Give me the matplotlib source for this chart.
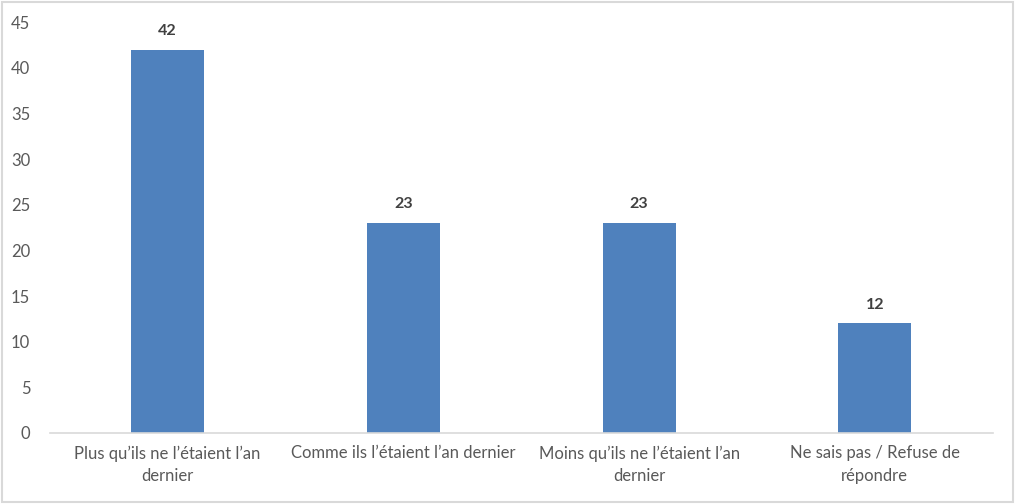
import matplotlib.pyplot as plt
from matplotlib.patches import Rectangle

categories = ["Plus qu’ils ne l’étaient l’an\ndernier",
              "Comme ils l’étaient l’an dernier",
              "Moins qu’ils ne l’étaient l’an\ndernier",
              "Ne sais pas / Refuse de\nrépondre"]
values = [42, 23, 23, 12]

plt.rcParams['font.family'] = ['Lato', 'DejaVu Sans']

fig = plt.figure(figsize=(10.16, 5.04), dpi=100)
ax = fig.add_axes([0.049, 0.141, 0.928, 0.815])

x = range(len(values))
bars = ax.bar(x, values, width=0.31, color='#4F81BD', zorder=2)

for xi, v in zip(x, values):
    ax.text(xi, v + 1.3, str(v), ha='center', va='bottom',
            fontsize=11.5, fontweight='bold', color='#404040')

ax.set_xlim(-0.5, 3.5)
ax.set_ylim(0, 45)
ax.set_yticks(range(0, 46, 5))
ax.set_xticks(list(x))
ax.set_xticklabels(categories, fontsize=12, color='#595959', linespacing=1.5)
ax.tick_params(axis='y', labelsize=12, labelcolor='#595959', length=0, pad=14)
ax.tick_params(axis='x', length=0, pad=9)

for s in ['top', 'right', 'left']:
    ax.spines[s].set_visible(False)
ax.spines['bottom'].set_color('#D9D9D9')
ax.spines['bottom'].set_linewidth(1.2)

# outer chart border
fig.patches.append(Rectangle((0.002, 0.003), 0.995, 0.993, transform=fig.transFigure,
                             fill=False, edgecolor='#D9D9D9', linewidth=1.5))

fig.savefig('out.png', dpi=100)
